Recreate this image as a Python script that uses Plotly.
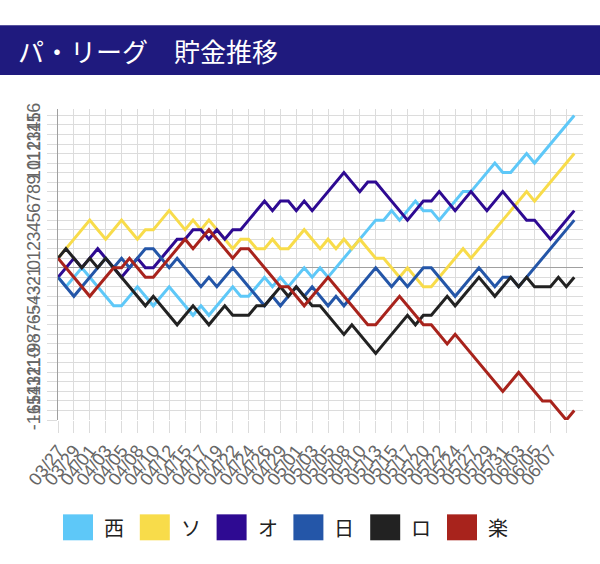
import plotly.graph_objects as go

dates = ["03/27","03/28","03/29","03/31","04/01","04/02","04/03","04/04","04/05","04/07",
         "04/08","04/09","04/10","04/11","04/12","04/14","04/15","04/16","04/17","04/18",
         "04/19","04/21","04/22","04/23","04/24","04/25","04/26","04/28","04/29","04/30",
         "05/01","05/02","05/03","05/04","05/05","05/06","05/08","05/09","05/10","05/12",
         "05/13","05/14","05/15","05/16","05/17","05/19","05/20","05/21","05/22","05/23",
         "05/24","05/26","05/27","05/28","05/29","05/30","05/31","06/02","06/03","06/04",
         "06/05","06/06","06/07","06/09","06/10","06/11"]

teams = ["西", "ソ", "オ", "日", "ロ", "楽"]
colors = ["#5ec8f8", "#f8dc4a", "#2e0a92", "#2456a8", "#222222", "#a8231c"]

seibu = [-1,-2,-1,0,-1,-2,-3,-4,-4,-3,-2,-3,-4,-3,-2,-3,-4,-5,-4,-5,-4,-3,-2,-3,-3,-2,-1,-2,-1,-2,
         -1,0,-1,0,-1,0,1,2,3,4,5,5,6,5,6,7,6,6,5,6,7,8,8,9,10,11,10,10,11,12,11,12,13,14,15,16]
softbank = [1,2,3,4,5,4,3,4,5,4,3,4,4,5,6,5,4,5,4,5,4,3,2,3,3,2,2,3,2,2,
            3,4,3,2,3,2,3,2,3,2,1,1,0,-1,0,-1,-2,-2,-1,0,1,2,1,2,3,4,5,6,7,8,7,8,9,10,11,12]
orix = [-1,0,1,0,1,2,1,0,-1,0,1,0,0,1,2,3,3,4,4,3,4,3,4,4,5,6,7,6,7,7,
        6,7,6,7,8,9,10,9,8,9,9,8,7,6,5,6,7,7,8,7,6,7,8,7,6,7,8,7,6,5,5,4,3,4,5,6]
nippon = [-1,-2,-3,-2,-1,0,1,0,1,0,1,2,2,1,0,1,0,-1,-2,-1,-2,-1,0,-1,-2,-3,-4,-3,-4,-3,
          -2,-3,-2,-3,-4,-3,-4,-3,-2,-1,0,-1,-2,-1,-2,-1,0,0,-1,-2,-3,-2,-1,0,-1,-2,-1,-1,-2,-1,0,1,2,3,4,5]
lotte = [1,2,1,0,1,0,1,0,-1,-2,-3,-4,-3,-4,-5,-6,-5,-4,-5,-6,-5,-4,-5,-5,-5,-4,-4,-3,-2,-3,
         -2,-3,-4,-4,-5,-6,-7,-6,-7,-8,-9,-8,-7,-6,-5,-6,-5,-5,-4,-3,-4,-3,-2,-1,-2,-3,-2,-1,-2,-1,-2,-2,-2,-1,-2,-1]
rakuten = [1,0,-1,-2,-3,-2,-1,0,0,1,0,-1,-1,0,1,2,3,2,3,4,3,2,1,2,2,1,0,-1,-2,-2,
           -3,-4,-3,-2,-1,-2,-3,-4,-5,-6,-6,-5,-4,-3,-4,-5,-6,-6,-7,-8,-7,-8,-9,-10,-11,-12,-13,-12,-11,-12,-13,-14,-14,-15,-16,-15]
series = [seibu, softbank, orix, nippon, lotte, rakuten]

title_text = "パ・リーグ　貯金推移"
y_ticks = list(range(-16, 17))
label_every = 2
last_label_index = 62

W, H = 600, 564
ML, MR, MT, MB = 58, 17, 109, 143.5
plot_h = H - MT - MB
plot_w = W - ML - MR

def py(y):
    return (H - MB - y) / plot_h

def px(x):
    return (x - ML) / plot_w

fig = go.Figure()
for name, vals, col in zip(teams, series, colors):
    fig.add_trace(go.Scatter(x=dates, y=vals, mode="lines", name=name,
                             line=dict(color=col, width=3), showlegend=False))

tickvals = [dates[i] for i in range(0, len(dates), label_every)]
ticktext = [dates[i] if i <= last_label_index else "" for i in range(0, len(dates), label_every)]

tick_font = dict(family="Liberation Sans, Arial, sans-serif", size=18, color="#666666")
fig.update_xaxes(type="category", range=[0, 66.1], tickmode="array", tickvals=tickvals,
                 ticktext=ticktext, tickangle=-52, showgrid=True, gridcolor="#dcdcdc", gridwidth=1,
                 ticks="outside", ticklen=12, tickcolor="#dcdcdc", showline=False, zeroline=False,
                 tickfont=tick_font)
fig.update_yaxes(range=[-16, 16.68], tickmode="array", tickvals=y_ticks,
                 ticktext=[str(v) for v in y_ticks], tickangle=-90,
                 showgrid=True, gridcolor="#dcdcdc", gridwidth=1, zeroline=True,
                 zerolinecolor="#a0a0a0", zerolinewidth=1, showline=True, linecolor="#a0a0a0", linewidth=1,
                 ticks="outside", ticklen=10, tickcolor="#dcdcdc", tickfont=tick_font)

shapes = [dict(type="rect", xref="paper", yref="paper", x0=px(0), x1=px(W), y0=py(75), y1=py(25),
               fillcolor="#1f1a7e", line=dict(width=0), layer="below")]
annotations = [dict(text=title_text, xref="paper", yref="paper", x=px(16), y=py(50), xanchor="left",
                    yanchor="middle", showarrow=False,
                    font=dict(family="Noto Sans CJK JP", size=26, color="white"))]
for k, (name, col) in enumerate(zip(teams, colors)):
    x0 = 63 + 76.8 * k
    shapes.append(dict(type="rect", xref="paper", yref="paper", x0=px(x0), x1=px(x0 + 30),
                       y0=py(541), y1=py(515), fillcolor=col, line=dict(width=0)))
    annotations.append(dict(text=name, xref="paper", yref="paper", x=px(x0 + 39), y=py(528),
                            xanchor="left", yanchor="middle", showarrow=False,
                            font=dict(family="Noto Sans CJK JP", size=20, color="#222222")))

fig.update_layout(width=W, height=H, margin=dict(l=ML, r=MR, t=MT, b=MB, pad=0),
                  plot_bgcolor="white", paper_bgcolor="white", shapes=shapes, annotations=annotations)
fig.write_html("out.html")
